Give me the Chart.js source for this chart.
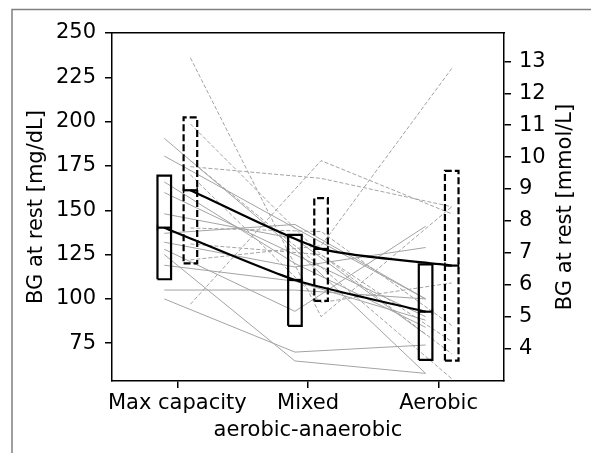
<!DOCTYPE html>
<html>
<head>
<meta charset="utf-8">
<script src="https://cdn.jsdelivr.net/npm/chart.js@4.4.1/dist/chart.umd.min.js"></script>
<style>
  body { margin: 0; background: #fff; }
  canvas { display: block; }
</style>
</head>
<body>
<canvas id="chart" width="591" height="453"></canvas>
<script>
// categories and tick labels
var categories = ["Max capacity", "Mixed", "Aerobic"];
var mgTicks = [75, 100, 125, 150, 175, 200, 225, 250];
var mmolTicks = [4, 5, 6, 7, 8, 9, 10, 11, 12, 13];

// group summaries (solid = first condition, dashed = second)
var solidMean = [140.2, 110.7, 92.8];
var solidLow = [111.1, 84.8, 65.6];
var solidHigh = [169.5, 136.1, 119.5];
var dashedMean = [161.3, 128.2, 118.8];
var dashedLow = [120.1, 98.9, 65.2];
var dashedHigh = [202.4, 156.8, 172.2];

// individual subjects, one row per subject [max, mixed, aerobic]
var solidSubjects = [
  [190.6, 128, 58],
  [180.6, 140, 100],
  [166, 120, 84],
  [160, 125, 90],
  [148, 134, 80],
  [137, 142, 100],
  [132, 118, 129],
  [128, 93, 141],
  [125, 65, 58],
  [100, 70, 74],
  [105, 105, 100],
  [119, 110, 88]
];
var dashedSubjects = [
  [236, 90, 152],
  [198.7, 125, 76],
  [174.6, 168, 152],
  [97, 178, 148],
  [140, 138, 85],
  [122, 130, 230],
  [131, 125, 69],
  [178, 118, 55],
  [170, 98, 109]
];

var FONT = "'DejaVu Sans', sans-serif";
var boxHalf = 0.052;
var solidShift = -0.1;
var dashedShift = 0.1;

function pts(vals, shift) {
  return vals.map(function (v, i) { return { x: i + shift, y: v }; });
}

function rect(cx, lo, hi) {
  return [
    { x: cx - boxHalf, y: lo }, { x: cx + boxHalf, y: lo },
    { x: cx + boxHalf, y: hi }, { x: cx - boxHalf, y: hi },
    { x: cx - boxHalf, y: lo }
  ];
}

var datasets = [];

solidSubjects.forEach(function (s) {
  datasets.push({ data: pts(s, solidShift), borderColor: "#a3a3a3", borderWidth: 1, order: 3 });
});
dashedSubjects.forEach(function (s) {
  datasets.push({ data: pts(s, dashedShift), borderColor: "#a3a3a3", borderWidth: 1, borderDash: [4, 2], order: 3 });
});

categories.forEach(function (c, i) {
  datasets.push({ data: rect(i + solidShift, solidLow[i], solidHigh[i]), borderColor: "#000", borderWidth: 2.2, order: 2 });
  datasets.push({ data: rect(i + dashedShift, dashedLow[i], dashedHigh[i]), borderColor: "#000", borderWidth: 2.2, borderDash: [7, 3], order: 2 });
  // mean markers across each box, with small caps
  [[solidShift, solidMean[i]], [dashedShift, dashedMean[i]]].forEach(function (m) {
    datasets.push({
      data: [{ x: i + m[0] - boxHalf, y: m[1] }, { x: i + m[0] + boxHalf, y: m[1] }],
      borderColor: "#000", borderWidth: 2.2, order: 1,
      pointStyle: "line", pointRotation: 90, pointRadius: 3,
      pointBorderColor: "#000", pointBorderWidth: 1.5
    });
  });
});

datasets.push({ data: pts(solidMean, solidShift), borderColor: "#000", borderWidth: 2.2, tension: 0.2, order: 0 });
datasets.push({ data: pts(dashedMean, dashedShift), borderColor: "#000", borderWidth: 2.2, tension: 0.2, order: 0 });

var yMin = 53.7, yMax = 250;

// frame + right-hand title (matplotlib reads it bottom-to-top)
var extras = {
  id: "extras",
  afterDraw: function (chart) {
    var ctx = chart.ctx;
    ctx.save();
    ctx.strokeStyle = "#808080";
    ctx.lineWidth = 1.5;
    ctx.beginPath();
    ctx.moveTo(12, 453);
    ctx.lineTo(12, 9.5);
    ctx.lineTo(591, 9.5);
    ctx.stroke();
    var a = chart.chartArea;
    ctx.translate(566, (a.top + a.bottom) / 2);
    ctx.rotate(-Math.PI / 2);
    ctx.fillStyle = "#000";
    ctx.font = "21px " + FONT;
    ctx.textAlign = "center";
    ctx.textBaseline = "middle";
    ctx.fillText("BG at rest [mmol/L]", 0, 0);
    ctx.restore();
  }
};

var axisGrid = { display: true, drawOnChartArea: false, drawTicks: true, tickLength: 7, color: "#000", lineWidth: 1.5 };
var axisBorder = { display: true, color: "#000", width: 1.5 };

new Chart(document.getElementById("chart"), {
  type: "scatter",
  data: { datasets: datasets },
  plugins: [extras],
  options: {
    responsive: false,
    animation: false,
    devicePixelRatio: 1,
    showLine: true,
    layout: { padding: 0 },
    elements: { point: { radius: 0 }, line: { fill: false, borderJoinStyle: "miter" } },
    plugins: { legend: { display: false }, tooltip: { enabled: false } },
    scales: {
      x: {
        type: "linear", position: "bottom", min: -0.5, max: 2.5,
        grid: axisGrid, border: axisBorder,
        afterBuildTicks: function (s) { s.ticks = categories.map(function (c, i) { return { value: i }; }); },
        afterFit: function (s) { s.height = 72; },
        ticks: {
          color: "#000", padding: 3, maxRotation: 0, autoSkip: false,
          font: { family: FONT, size: 21 },
          callback: function (v) { return categories[v]; }
        },
        title: { display: true, text: "aerobic-anaerobic", color: "#000", font: { family: FONT, size: 21 }, padding: { top: 0, bottom: 10 } }
      },
      xTop: {
        type: "linear", position: "top", min: -0.5, max: 2.5,
        grid: { display: false }, border: axisBorder,
        ticks: { display: false },
        afterFit: function (s) { s.height = 33; }
      },
      y: {
        type: "linear", position: "left", min: yMin, max: yMax,
        grid: axisGrid, border: axisBorder,
        afterBuildTicks: function (s) { s.ticks = mgTicks.map(function (v) { return { value: v }; }); },
        afterFit: function (s) { s.width = 112; },
        ticks: { color: "#000", padding: 9, font: { family: FONT, size: 21 } },
        title: { display: true, text: "BG at rest [mg/dL]", color: "#000", font: { family: FONT, size: 21 }, padding: { top: 24, bottom: 0 } }
      },
      y2: {
        type: "linear", position: "right", min: yMin / 18, max: yMax / 18,
        grid: axisGrid, border: axisBorder,
        afterBuildTicks: function (s) { s.ticks = mmolTicks.map(function (v) { return { value: v }; }); },
        afterFit: function (s) { s.width = 87; },
        ticks: { color: "#000", padding: 8, font: { family: FONT, size: 21 } }
      }
    }
  }
});
</script>
</body>
</html>
